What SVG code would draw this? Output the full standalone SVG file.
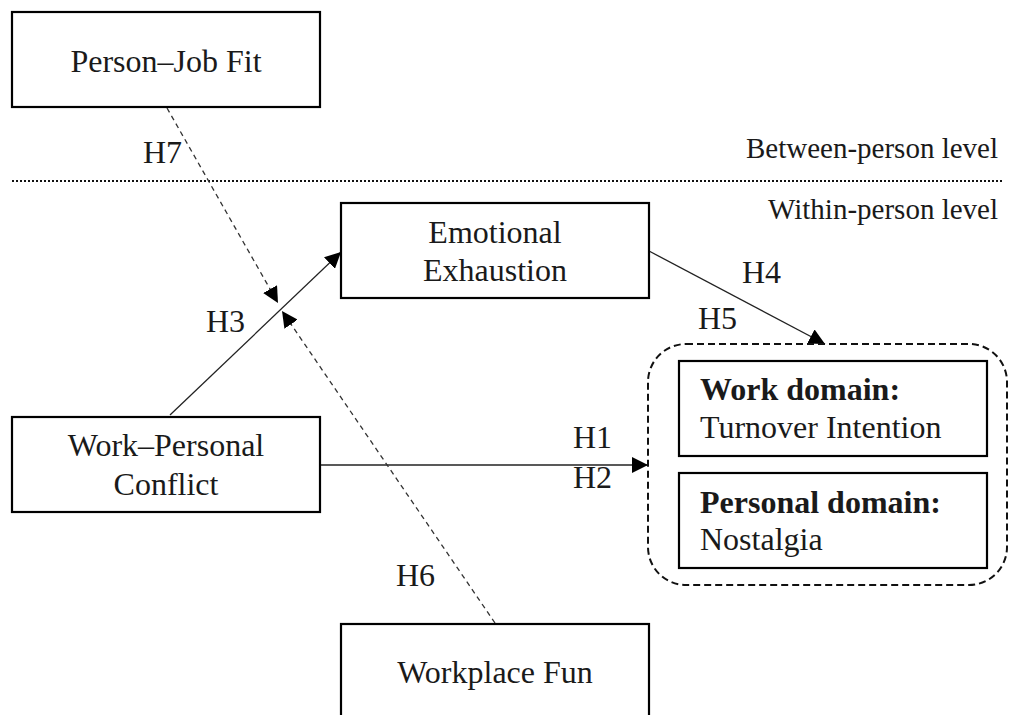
<svg xmlns="http://www.w3.org/2000/svg" width="1010" height="715" viewBox="0 0 1010 715">
<style>
.box{fill:#fff;stroke:#000;stroke-width:2.2}
.t{font-family:"Liberation Serif","Times New Roman",serif;font-size:32px;fill:#1a1a1a}
.c{text-anchor:middle}
.b{font-weight:bold}
.lv{font-family:"Liberation Serif","Times New Roman",serif;font-size:29px;fill:#1a1a1a;text-anchor:end}
.solid{stroke:#222;stroke-width:1.3;fill:none}
.dash{stroke:#333;stroke-width:1.3;fill:none;stroke-dasharray:5,4}
</style>
<defs>
<marker id="ah" viewBox="0 0 10 10" refX="10" refY="5" markerWidth="16" markerHeight="16" markerUnits="userSpaceOnUse" orient="auto">
<path d="M0,0 L10,5 L0,10 Z" fill="#000"/>
</marker>
</defs>
<line x1="12" y1="181" x2="1002" y2="181" stroke="#111" stroke-width="2" stroke-dasharray="2,2"/>
<text class="lv" x="998" y="158">Between-person level</text>
<text class="lv" x="998" y="219">Within-person level</text>
<g id="connectors">
<line class="solid" x1="170" y1="415" x2="341" y2="252" marker-end="url(#ah)"/>
<line class="solid" x1="649" y1="251" x2="825" y2="344" marker-end="url(#ah)"/>
<line class="solid" x1="320" y1="465" x2="648" y2="465" marker-end="url(#ah)"/>
<line class="dash" x1="167" y1="108" x2="278" y2="303" marker-end="url(#ah)"/>
<line class="dash" x1="495" y1="623" x2="282" y2="311" marker-end="url(#ah)"/>
<text class="t" x="143" y="163">H7</text>
<text class="t" x="206" y="332">H3</text>
<text class="t" x="742" y="283">H4</text>
<text class="t" x="698" y="329">H5</text>
<text class="t" x="573" y="448">H1</text>
<text class="t" x="573" y="488">H2</text>
<text class="t" x="396" y="586">H6</text>
</g>
<g id="person-job-fit">
<rect class="box" x="12" y="12" width="308" height="95"/>
<text class="t c" x="166" y="72">Person–Job Fit</text>
</g>
<g id="emotional-exhaustion">
<rect class="box" x="341" y="203" width="308" height="95"/>
<text class="t c" x="495" y="243">Emotional</text>
<text class="t c" x="495" y="281">Exhaustion</text>
</g>
<g id="work-personal-conflict">
<rect class="box" x="12" y="417" width="308" height="95"/>
<text class="t c" x="166" y="456">Work–Personal</text>
<text class="t c" x="166" y="495">Conflict</text>
</g>
<g id="workplace-fun">
<rect class="box" x="341" y="624" width="308" height="110"/>
<text class="t c" x="495" y="683">Workplace Fun</text>
</g>
<g id="outcomes">
<rect x="648" y="344" width="359" height="241" rx="38" ry="38" fill="none" stroke="#111" stroke-width="2" stroke-dasharray="7,4"/>
</g>
<g id="work-domain">
<rect class="box" x="679" y="361" width="308" height="95"/>
<text class="t b" x="700" y="400">Work domain:</text>
<text class="t" x="700" y="438">Turnover Intention</text>
</g>
<g id="personal-domain">
<rect class="box" x="679" y="473" width="308" height="95"/>
<text class="t b" x="700" y="513">Personal domain:</text>
<text class="t" x="700" y="550">Nostalgia</text>
</g>
</svg>
